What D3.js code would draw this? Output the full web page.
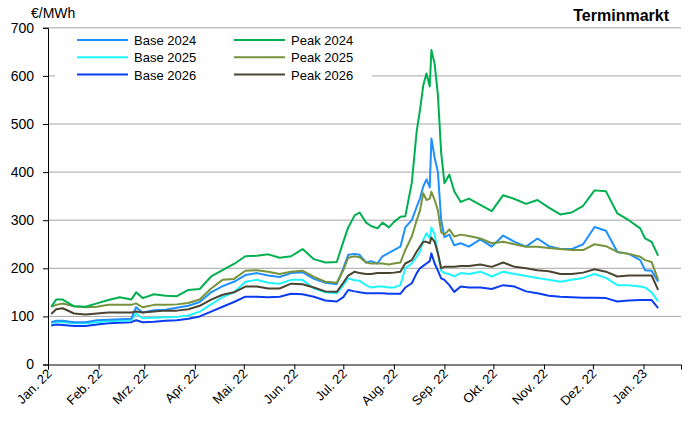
<!DOCTYPE html>
<html>
<head>
<meta charset="utf-8">
<script src="https://cdn.jsdelivr.net/npm/d3@7"></script>
<style>
  body { margin: 0; background: #fff; }
  text { font-family: Arial, "Liberation Sans", sans-serif; }
</style>
</head>
<body>
<svg id="chart" width="691" height="421"></svg>
<script>
// sample dates (roughly weekly, denser around the August spike)
var dates = ["2022-01-03","2022-01-06","2022-01-10","2022-01-17","2022-01-24","2022-01-31","2022-02-07","2022-02-14","2022-02-21","2022-02-24",
  "2022-02-28","2022-03-07","2022-03-14","2022-03-21","2022-03-28","2022-04-04","2022-04-11","2022-04-18","2022-04-25","2022-05-02",
  "2022-05-09","2022-05-16","2022-05-23","2022-05-30","2022-06-06","2022-06-13","2022-06-20","2022-06-27","2022-07-01","2022-07-04",
  "2022-07-08","2022-07-11","2022-07-15","2022-07-18","2022-07-22","2022-07-25","2022-07-29","2022-08-01","2022-08-05","2022-08-08",
  "2022-08-12","2022-08-15","2022-08-17","2022-08-19","2022-08-21","2022-08-23","2022-08-24","2022-08-26","2022-08-28","2022-08-30",
  "2022-09-01","2022-09-04","2022-09-07","2022-09-11","2022-09-16","2022-09-23","2022-09-30","2022-10-07","2022-10-14","2022-10-21",
  "2022-10-28","2022-11-04","2022-11-11","2022-11-18","2022-11-25","2022-12-02","2022-12-09","2022-12-16","2022-12-23","2022-12-30",
  "2023-01-02","2023-01-06","2023-01-10"];

var base2024 = [88,91,91,88,88,92,93,94,95,119, 108,113,114,118,122,130,150,163,172,186,
  190,185,182,190,192,178,170,167,200,228, 230,228,212,215,210,225,232,238,245,285,
  300,328,345,370,385,368,470,430,400,300, 265,270,248,252,245,260,245,268,255,245,
  262,246,240,240,250,286,278,234,230,217, 196,195,172];
var base2025 = [86,89,88,86,86,88,90,91,92,106, 96,97,98,99,102,110,125,140,150,172,
  176,170,168,176,176,158,150,148,165,179, 175,174,165,160,162,162,160,160,165,200,
  210,224,235,259,273,262,285,270,231,195, 190,188,183,190,188,193,183,193,188,184,
  180,176,172,176,180,188,180,165,165,162, 160,150,131];
var base2026 = [81,83,82,80,80,83,86,87,88,92, 88,89,91,92,95,100,110,120,130,141,
  141,140,141,147,146,141,133,131,140,155, 152,150,148,148,148,148,147,147,147,160,
  169,190,200,205,210,215,231,210,195,179, 176,165,151,162,160,160,157,165,162,152,
  148,143,141,140,139,139,138,131,133,134, 134,134,117];
var peak2024 = [120,135,135,121,120,127,134,140,135,150, 138,146,143,142,155,157,183,196,209,225,
  226,229,222,225,240,219,212,213,255,285, 310,316,295,288,283,295,285,296,307,308,
  378,485,529,580,605,578,654,625,560,440, 377,395,360,338,345,332,319,352,344,334,
  342,326,312,316,330,362,360,314,300,283, 262,255,226];
var peak2025 = [120,124,127,121,119,120,124,124,124,127, 119,124,124,125,128,135,158,176,178,195,
  196,193,188,193,195,182,172,170,196,222, 225,223,212,210,210,210,208,210,212,238,
  266,300,320,356,342,345,359,342,320,275, 270,281,266,270,267,262,252,255,250,245,
  245,242,240,238,238,250,246,234,230,224, 217,213,176];
var peak2026 = [105,115,117,106,104,106,108,108,108,110, 108,110,112,112,115,122,135,145,150,162,
  162,158,158,168,167,160,152,151,170,185, 193,190,188,188,190,190,190,191,193,210,
  217,235,245,255,255,252,264,255,231,200, 203,203,203,205,205,208,203,212,203,200,
  196,194,188,188,191,198,193,183,185,185, 185,185,155];

var seriesNames = ["Base 2024", "Base 2025", "Base 2026", "Peak 2024", "Peak 2025", "Peak 2026"];
var seriesColors = ["#1e90ff", "#1ff5ff", "#0a3cf0", "#00b050", "#77933c", "#4a4430"];
var monthLabels = ["Jan. 22","Feb. 22","Mrz. 22","Apr. 22","Mai. 22","Jun. 22","Jul. 22",
  "Aug. 22","Sep. 22","Okt. 22","Nov. 22","Dez. 22","Jan. 23"];
var yTicks = [0, 100, 200, 300, 400, 500, 600, 700];

var parse = d3.timeParse("%Y-%m-%d");
var dateObjs = dates.map(parse);
var allValues = [base2024, base2025, base2026, peak2024, peak2025, peak2026];

var svg = d3.select("#chart");

var x = d3.scaleTime()
    .domain([new Date(2022, 0, 1), new Date(2023, 0, 24)])
    .range([48, 681]);
var y = d3.scaleLinear()
    .domain([0, 700])
    .range([364.5, 27.8]);

// gridlines
svg.append("g")
    .selectAll("line")
    .data(yTicks.filter(function(d) { return d > 0; }))
    .enter().append("line")
    .attr("x1", 48).attr("x2", 681)
    .attr("y1", function(d) { return y(d); })
    .attr("y2", function(d) { return y(d); })
    .attr("stroke", "#a6a6a6")
    .attr("stroke-width", 1);

// y axis
var yAxis = svg.append("g")
    .attr("transform", "translate(48,0)")
    .call(d3.axisLeft(y).tickValues(yTicks).tickSize(5).tickPadding(9));
yAxis.select(".domain").attr("stroke", "#000");
yAxis.selectAll(".tick line").attr("stroke", "#000");
yAxis.selectAll("text").attr("font-size", 14).attr("fill", "#000")
    .style("font-family", "Arial, 'Liberation Sans', sans-serif");

// x axis
var months = d3.timeMonth.range(new Date(2022, 0, 1), new Date(2023, 0, 2));
var xAxis = svg.append("g")
    .attr("transform", "translate(0,364.5)")
    .call(d3.axisBottom(x).tickValues(months).tickSize(5)
        .tickFormat(function(d, i) { return monthLabels[i]; }));
xAxis.select(".domain").attr("stroke", "#000");
xAxis.selectAll(".tick line").attr("stroke", "#000");
xAxis.selectAll("text")
    .attr("font-size", 13)
    .attr("fill", "#000")
    .style("font-family", "Arial, 'Liberation Sans', sans-serif")
    .attr("text-anchor", "end")
    .attr("dy", null)
    .attr("y", 0)
    .attr("transform", "translate(4,10) rotate(-45)");

// lines
var line = d3.line()
    .x(function(d, i) { return x(dateObjs[i]); })
    .y(function(d) { return y(d); });

var drawOrder = [2, 1, 0, 5, 4, 3];
drawOrder.forEach(function(k) {
    svg.append("path")
        .datum(allValues[k])
        .attr("fill", "none")
        .attr("stroke", seriesColors[k])
        .attr("stroke-width", 2)
        .attr("stroke-linejoin", "round")
        .attr("d", line);
});

// legend (white box hides the gridline behind it)
svg.append("rect")
    .attr("x", 55).attr("y", 31)
    .attr("width", 317).attr("height", 53)
    .attr("fill", "#fff");

var legend = svg.append("g")
    .selectAll("g")
    .data(seriesNames)
    .enter().append("g")
    .attr("transform", function(d, i) {
        var col = Math.floor(i / 3), row = i % 3;
        return "translate(" + (77 + col * 157) + "," + (40 + row * 17.3) + ")";
    });
legend.append("line")
    .attr("x1", 0).attr("x2", 51)
    .attr("stroke", function(d, i) { return seriesColors[i]; })
    .attr("stroke-width", 2);
legend.append("text")
    .attr("x", 57).attr("y", 5)
    .attr("font-size", 13)
    .text(function(d) { return d; });

// titles
svg.append("text")
    .attr("x", 31).attr("y", 18)
    .attr("font-size", 14)
    .text("€/MWh");
svg.append("text")
    .attr("x", 669).attr("y", 21)
    .attr("text-anchor", "end")
    .attr("font-size", 16)
    .attr("font-weight", "bold")
    .text("Terminmarkt");
</script>
</body>
</html>
